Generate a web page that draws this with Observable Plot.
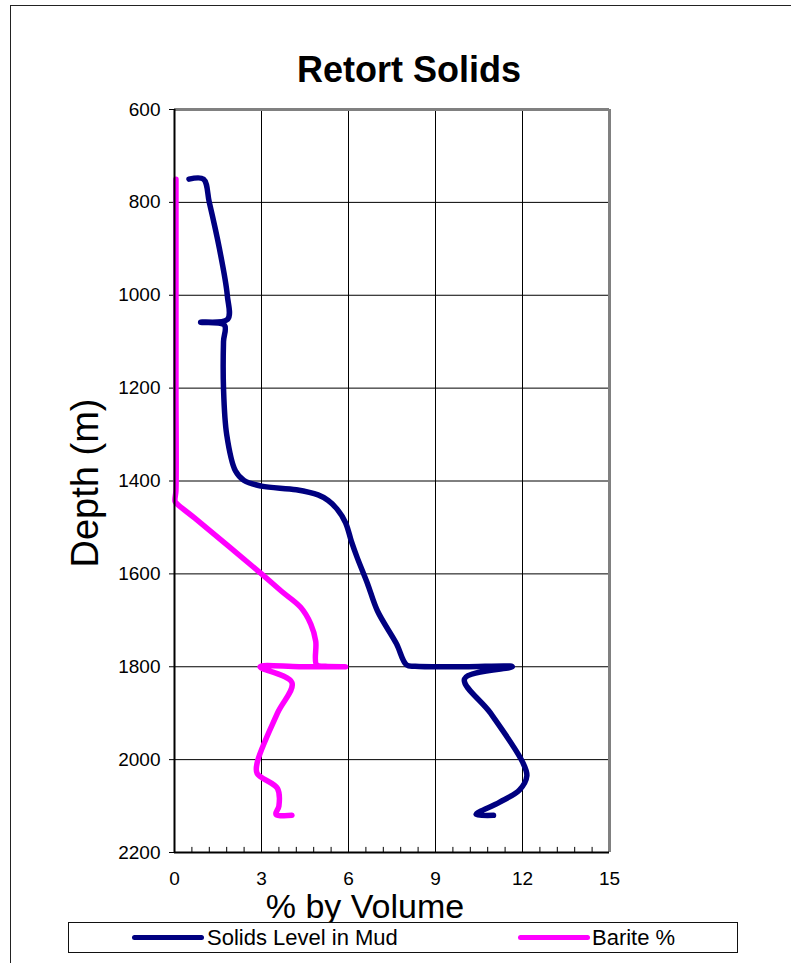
<!DOCTYPE html>
<html>
<head>
<meta charset="utf-8">
<script src="https://cdn.jsdelivr.net/npm/d3@7"></script>
<script src="https://cdn.jsdelivr.net/npm/@observablehq/plot@0.6"></script>
<style>
  html, body { margin: 0; padding: 0; background: #fff; overflow: hidden; }
  body { width: 791px; height: 963px; position: relative; font-family: "Liberation Sans", Arial, sans-serif; }
  #border { position: absolute; left: 10px; top: 5px; width: 900px; height: 1100px; border: 1.5px solid #222; box-sizing: border-box; }
  #chart { position: absolute; left: 0; top: 0; }
  .lbl { position: absolute; white-space: nowrap; color: #000; }
  #title { left: 0; width: 818px; top: 50px; text-align: center; font-weight: bold; font-size: 36px; line-height: 40px; }
  #ylabel { left: 85px; top: 483px; font-size: 38px; line-height: 38px; transform: translate(-50%, -50%) rotate(-90deg); }
  #xlabel { left: 365px; top: 906px; font-size: 34px; line-height: 22px; transform: translate(-50%, -50%); }
  #legend { position: absolute; left: 68px; top: 922px; width: 670px; height: 31px; border: 1.5px solid #111; box-sizing: border-box; background: #fff; }
  .sw { position: absolute; top: 12px; height: 5px; border-radius: 3px; }
  .lt { position: absolute; top: 2px; font-size: 22px; line-height: 26px; }
</style>
</head>
<body>
<div id="border"></div>
<div id="chart"></div>
<div class="lbl" id="title">Retort Solids</div>
<div class="lbl" id="ylabel">Depth (m)</div>
<div class="lbl" id="xlabel">% by Volume</div>
<div id="legend"></div>
<script>
// ---- Data ----
const seriesNames = ["Solids Level in Mud", "Barite %"];
const seriesColors = ["#000080", "#FF00FF"];

const solidsDepth = [750, 750, 800, 900, 1000, 1052, 1058, 1064, 1100, 1200, 1300, 1378, 1399, 1411, 1419, 1430, 1442, 1460, 1490, 1530, 1565, 1620, 1680, 1750, 1796, 1799, 1800, 1800, 1826, 1900, 2005, 2035, 2065, 2092, 2118, 2120];
const solidsValue = [0.5, 1.0, 1.2, 1.55, 1.82, 1.83, 0.9, 1.72, 1.69, 1.69, 1.8, 2.1, 2.4, 3.0, 4.2, 4.95, 5.3, 5.6, 5.9, 6.1, 6.3, 6.65, 7.0, 7.65, 8.0, 8.3, 10.0, 11.65, 10.0, 10.9, 12.0, 12.15, 11.9, 11.2, 10.4, 11.0];

const bariteDepth = [750, 1000, 1200, 1420, 1444, 1450, 1480, 1600, 1638, 1672, 1708, 1745, 1796, 1799, 1800, 1800, 1800, 1834, 1900, 2007, 2030, 2062, 2100, 2118, 2120];
const bariteValue = [0.05, 0.05, 0.05, 0.05, 0.02, 0.1, 0.7, 3.0, 3.7, 4.35, 4.7, 4.87, 4.9, 5.2, 5.9, 4.3, 2.95, 4.05, 3.55, 2.85, 2.85, 3.55, 3.6, 3.5, 4.05];

const xTicks = [0, 3, 6, 9, 12, 15];
const xMinorTicks = d3.range(0, 15.0001, 0.6).filter(v => Math.abs(v / 3 - Math.round(v / 3)) > 1e-6);
const yTicks = [600, 800, 1000, 1200, 1400, 1600, 1800, 2000, 2200];

const solids = solidsDepth.map((d, i) => ({depth: d, value: solidsValue[i]}));
const barite = bariteDepth.map((d, i) => ({depth: d, value: bariteValue[i]}));

const lineStyle = {strokeWidth: 5.5, strokeLinecap: "round", strokeLinejoin: "round", curve: "catmull-rom"};

const chart = Plot.plot({
  width: 791,
  height: 963,
  marginLeft: 174,
  marginRight: 182,
  marginTop: 109,
  marginBottom: 111,
  style: {fontFamily: "'Liberation Sans', Arial, sans-serif", fontSize: "19px", color: "#000", background: "transparent"},
  x: {domain: [0, 15]},
  y: {domain: [600, 2200], reverse: true},
  marks: [
    Plot.gridX(xTicks.slice(1, -1), {stroke: "#000", strokeOpacity: 1, strokeWidth: 1}),
    Plot.gridY(yTicks.slice(1, -1), {stroke: "#000", strokeOpacity: 1, strokeWidth: 1}),
    Plot.ruleY([600], {stroke: "#808080", strokeWidth: 3}),
    Plot.ruleX([15], {stroke: "#808080", strokeWidth: 3}),
    Plot.ruleX(xMinorTicks, {x: d => d, y1: 2200, y2: 2189, stroke: "#000", strokeWidth: 1}),
    Plot.axisY(yTicks, {tickSize: 5, tickPadding: 9, label: null, fontSize: 19, stroke: "#000", tickFormat: d => String(d)}),
    Plot.axisX(xTicks, {tickSize: 0, tickPadding: 19, label: null, fontSize: 19, tickFormat: d => String(d)}),
    Plot.line(barite, {x: "value", y: "depth", stroke: seriesColors[1], ...lineStyle}),
    Plot.line(solids, {x: "value", y: "depth", stroke: seriesColors[0], ...lineStyle}),
    Plot.ruleX([0], {stroke: "#000", strokeWidth: 2}),
    Plot.ruleY([2200], {stroke: "#000", strokeWidth: 2})
  ]
});
document.getElementById("chart").appendChild(chart);

// Legend
const legend = document.getElementById("legend");
const legendPos = [{sw: 63, tx: 138}, {sw: 449, tx: 523}];
seriesNames.forEach((name, i) => {
  const sw = document.createElement("div");
  sw.className = "sw";
  sw.style.left = legendPos[i].sw + "px";
  sw.style.width = "72px";
  sw.style.background = seriesColors[i];
  legend.appendChild(sw);
  const t = document.createElement("div");
  t.className = "lt";
  t.style.left = legendPos[i].tx + "px";
  t.textContent = name;
  legend.appendChild(t);
});
</script>
</body>
</html>
